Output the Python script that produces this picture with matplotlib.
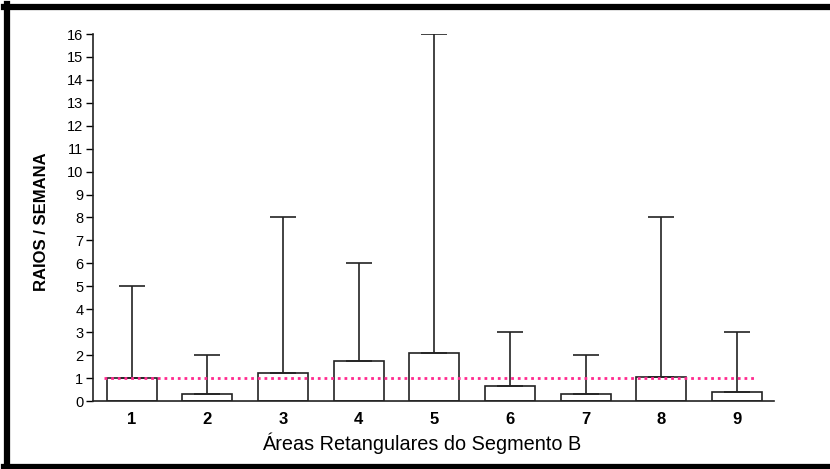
import matplotlib
matplotlib.use("Agg")
import matplotlib.pyplot as plt
from matplotlib.lines import Line2D

categories = ["1", "2", "3", "4", "5", "6", "7", "8", "9"]
means = [1.0, 0.32, 1.23, 1.74, 2.08, 0.65, 0.32, 1.06, 0.41]
maxima = [5, 2, 8, 6, 16, 3, 2, 8, 3]
reference_level = 1.0
yticks = list(range(0, 17))

plt.rcParams['font.family'] = ['Liberation Sans', 'DejaVu Sans']

W, H = 830, 469
fig = plt.figure(figsize=(W / 100, H / 100), dpi=100)
ax = fig.add_axes([93 / W, (H - 401) / H, (774 - 93) / W, (401 - 34) / H])

x = list(range(1, len(categories) + 1))
upper = [m - v for m, v in zip(maxima, means)]
ax.bar(x, means, width=0.66, color='white', edgecolor='#222222', linewidth=1.2, zorder=2)
ax.errorbar(x, means, yerr=[[0] * len(x), upper], fmt='none', ecolor='#222222',
            elinewidth=1.2, capsize=9.5, capthick=1.2, zorder=3)
ax.hlines(reference_level, 0.63, 9.27, colors='#ff2a8f', linestyles=(0, (1, 1.4)),
          linewidth=2, zorder=4)

ax.set_xlim(0.49, 9.49)
ax.set_ylim(0, 16)
ax.set_yticks(yticks)
ax.set_yticklabels([str(t) for t in yticks], fontsize=10.5)
ax.set_xticks(x)
ax.set_xticklabels(categories, fontsize=12, fontweight='bold')
ax.tick_params(axis='x', length=0, pad=8)
ax.tick_params(axis='y', length=5, width=1, direction='out', pad=2)
for s in ['top', 'right']:
    ax.spines[s].set_visible(False)
for s in ['left', 'bottom']:
    ax.spines[s].set_linewidth(1.2)
    ax.spines[s].set_color('#222222')

ax.set_ylabel("RAIOS / SEMANA", fontsize=12, fontweight='bold')
ax.yaxis.set_label_coords(-51 / (774 - 93), (401 - 222) / (401 - 34))
ax.yaxis.label.set_verticalalignment('center')
ax.set_xlabel("Áreas Retangulares do Segmento B", fontsize=14.3)
ax.xaxis.set_label_coords((422 - 93) / (774 - 93), -(443 - 401) / (401 - 34))
ax.xaxis.label.set_verticalalignment('center')

# outer border (top, left, bottom)
def fx(px):
    return px / W
def fy(py):
    return 1 - py / H
fig.add_artist(Line2D([fx(4), fx(830)], [fy(7), fy(7)], color='black', linewidth=4.5, transform=fig.transFigure))
fig.add_artist(Line2D([fx(7), fx(7)], [fy(4), fy(469)], color='black', linewidth=4.5, transform=fig.transFigure))
fig.add_artist(Line2D([fx(4), fx(830)], [fy(467), fy(467)], color='black', linewidth=4.5, transform=fig.transFigure))

fig.savefig("out.png", dpi=100)
